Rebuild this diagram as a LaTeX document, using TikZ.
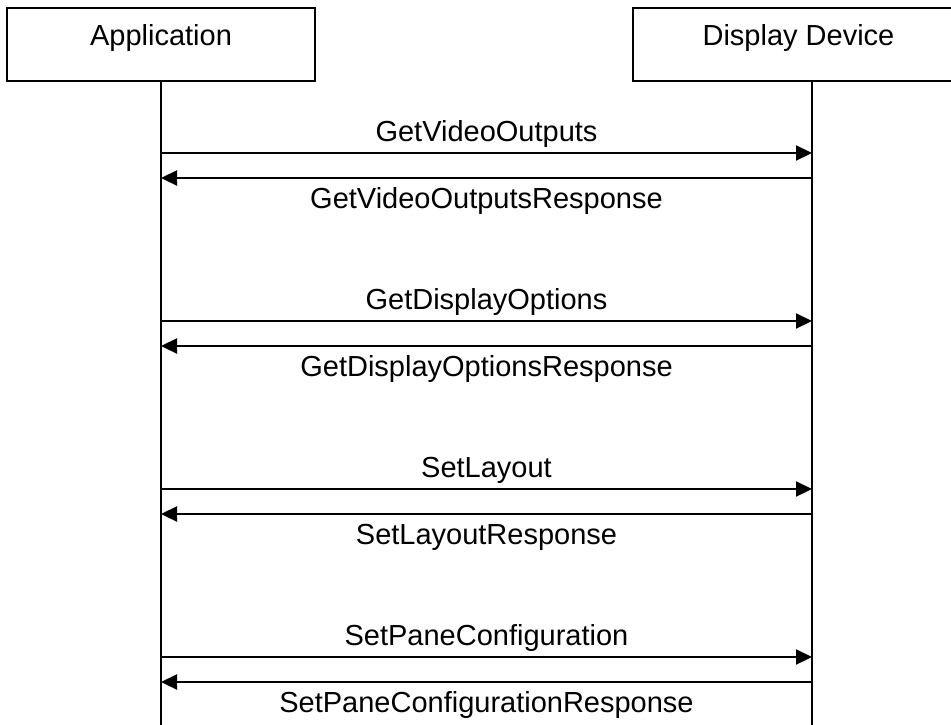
\documentclass[tikz,border=0pt]{standalone}
\usepackage{fontspec}
\setmainfont{Liberation Sans}
\usetikzlibrary{arrows.meta}
\begin{document}
\begin{tikzpicture}[x=1pt,y=-1pt,
  lifebox/.style={draw=black, line width=2.2pt, fill=white},
  boxlabel/.style={anchor=base, inner sep=0pt, font=\fontsize{29}{33}\selectfont},
  msglabel/.style={anchor=base, inner sep=0pt, font=\fontsize{29}{33}\selectfont},
  lifeline/.style={draw=black, line width=2.2pt},
  msg/.style={draw=black, line width=2.2pt, -{Triangle[length=16pt,width=15pt]}}]
\useasboundingbox (0,0) rectangle (951,725);
\clip (0,0) rectangle (951,725);
% participant boxes
\node[lifebox, minimum width=308pt, minimum height=73pt, inner sep=0pt] (appbox) at (161,44.5) {};
\node[boxlabel] (applabel) at (161,46) {Application};
\node[lifebox, minimum width=330pt, minimum height=73pt, inner sep=0pt] (devbox) at (798,44.5) {};
\node[boxlabel] (devlabel) at (798.5,45.5) {Display Device};
% lifelines
\coordinate (atop) at (161,81);
\coordinate (abot) at (161,730);
\coordinate (dtop) at (812,81);
\coordinate (dbot) at (812,730);
\draw[lifeline] (atop) -- (abot);
\draw[lifeline] (dtop) -- (dbot);
% messages
\foreach \k/\req/\resp in {0/GetVideoOutputs/GetVideoOutputsResponse,
                           1/GetDisplayOptions/GetDisplayOptionsResponse,
                           2/SetLayout/SetLayoutResponse,
                           3/SetPaneConfiguration/SetPaneConfigurationResponse}{
  \pgfmathsetmacro{\ya}{153+168*\k}
  \pgfmathsetmacro{\yb}{178+168*\k}
  \coordinate (a\k) at (161,\ya);
  \coordinate (d\k) at (812,\ya);
  \coordinate (ar\k) at (161,\yb);
  \coordinate (dr\k) at (812,\yb);
  \draw[msg] (a\k) -- (d\k);
  \draw[msg] (dr\k) -- (ar\k);
  \node[msglabel] (req\k) at (486.5,\ya-12) {\req};
  \node[msglabel] (resp\k) at (486.5,\yb+30) {\resp};
}
\end{tikzpicture}
\end{document}
